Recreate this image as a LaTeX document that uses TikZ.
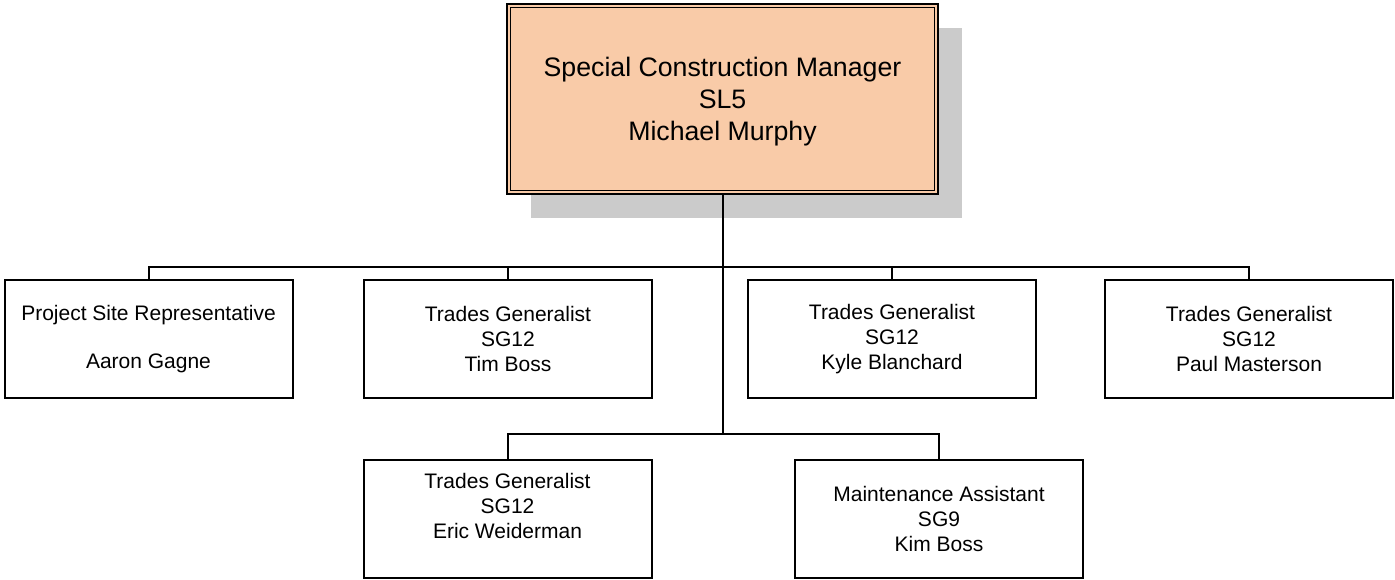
\documentclass[tikz,border=0pt]{standalone}
\usepackage{fontspec}
\setmainfont{Liberation Sans}
\usetikzlibrary{shadows}
\definecolor{peach}{HTML}{F9CBA8}
\definecolor{shadowgray}{HTML}{CBCBCB}
\begin{document}
\begin{tikzpicture}[x=1pt,y=-1pt,
  rolebox/.style={draw=black,line width=2pt,fill=white,rectangle,inner sep=0pt,
    minimum width=288pt,minimum height=118pt,align=center,
    font=\fontsize{21}{25}\selectfont},
  topbox/.style={draw=black,line width=2pt,fill=peach,rectangle,inner sep=0pt,
    minimum width=431pt,minimum height=190pt,align=center,text depth=0pt,
    font=\fontsize{26.7}{32}\selectfont,
    drop shadow={shadow xshift=24pt,shadow yshift=-24pt,fill=shadowgray,opacity=1}},
  wire/.style={draw=black,line width=2pt}]
\useasboundingbox (0,0) rectangle (1395,579);
\fill[white] (0,0) rectangle (1395,579);

\node[topbox] (top) at (722.5,99) {Special Construction Manager\\SL5\\Michael Murphy};
\draw[line width=1.1pt] ([shift={(4.5pt,-4.5pt)}]top.north west) rectangle ([shift={(-4.5pt,4.5pt)}]top.south east);

\node[rolebox] (psr) at (148.5,339) {Project Site Representative\\[23pt]Aaron Gagne};
\node[rolebox] (tim) at (508,339) {Trades Generalist\\SG12\\Tim Boss};
\node[rolebox] (kyle) at (892,339) {Trades Generalist\\SG12\\Kyle Blanchard};
\node[rolebox] (paul) at (1249,339) {Trades Generalist\\SG12\\Paul Masterson};
\node[rolebox] (eric) at (507.5,518.5) {Trades Generalist\\SG12\\Eric Weiderman\\\mbox{}};
\node[rolebox] (kim) at (939,518.5) {Maintenance Assistant\\SG9\\Kim Boss};

\coordinate (b1) at (722.5,267);
\coordinate (b2) at (722.5,434);

\draw[wire] (top.south) -- (b2);
\draw[wire] (psr.north) |- (b1) -| (paul.north);
\draw[wire] (tim.north) |- (b1);
\draw[wire] (kyle.north) |- (b1);
\draw[wire] (eric.north) |- (b2) -| (kim.north);
\end{tikzpicture}
\end{document}
